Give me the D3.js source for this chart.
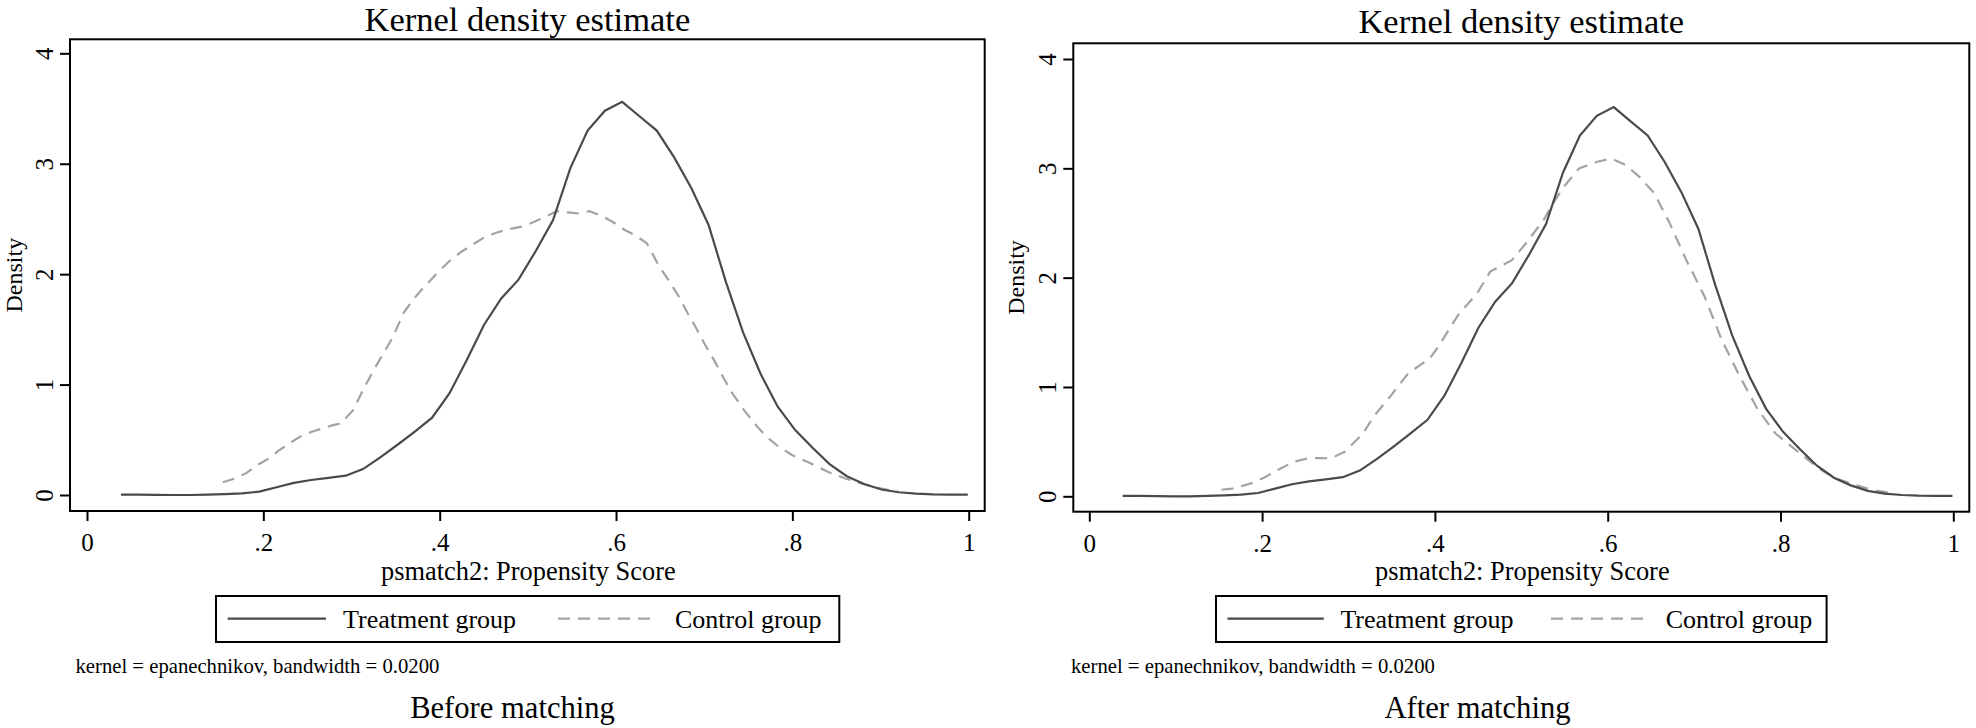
<!DOCTYPE html>
<html>
<head>
<meta charset="utf-8">
<title>Kernel density estimate</title>
<style>
  body { margin: 0; background: #fff; }
  svg text { font-family: "Liberation Serif", "Times New Roman", serif; fill: #000; }
</style>
</head>
<body>
<svg id="chart" width="1976" height="728"></svg>
<script src="https://d3js.org/d3.v7.min.js"></script>
<script>
"use strict";

// tick values / labels (Stata style)
var xTickValues = [0, 0.2, 0.4, 0.6, 0.8, 1];
var xTickLabels = ["0", ".2", ".4", ".6", ".8", "1"];
var yTickValues = [0, 1, 2, 3, 4];
var yTickLabels = ["0", "1", "2", "3", "4"];

var seriesNames = ["Treatment group", "Control group"];
var panelTitles = ["Before matching", "After matching"];

// treatment group density (same in both panels)
var treatX = [0.0386,0.0582,0.0778,0.0974,0.1170,0.1366,0.1562,0.1758,0.1954,0.2150,
              0.2346,0.2542,0.2738,0.2934,0.3130,0.3326,0.3522,0.3718,0.3914,0.4110,
              0.4306,0.4502,0.4698,0.4894,0.5090,0.5286,0.5482,0.5678,0.5874,0.6070,
              0.6266,0.6462,0.6658,0.6854,0.7050,0.7246,0.7442,0.7638,0.7834,0.8030,
              0.8226,0.8422,0.8618,0.8814,0.9010,0.9206,0.9402,0.9598,0.9794,0.9990];
var treatY = [0.003,0.003,0.002,0.000,0.000,0.003,0.008,0.015,0.030,0.070,
              0.110,0.136,0.155,0.175,0.235,0.340,0.455,0.575,0.700,0.920,
              1.220,1.540,1.780,1.950,2.210,2.490,2.960,3.300,3.480,3.560,
              3.430,3.300,3.060,2.780,2.445,1.930,1.470,1.100,0.800,0.590,
              0.430,0.280,0.170,0.100,0.050,0.025,0.012,0.006,0.004,0.003];

// control group, before matching
var ctrlBeforeX = [0.154,0.168,0.181,0.193,0.204,0.217,0.230,0.242,0.254,0.266,
                   0.278,0.288,0.302,0.313,0.325,0.336,0.347,0.359,0.371,0.383,
                   0.396,0.410,0.424,0.438,0.452,0.466,0.480,0.493,0.506,0.520,
                   0.533,0.545,0.557,0.570,0.583,0.597,0.610,0.622,0.635,0.649,
                   0.660,0.671,0.681,0.691,0.701,0.712,0.722,0.732,0.746,0.760,
                   0.772,0.784,0.800,0.820,0.840,0.860,0.880,0.900,0.920];
var ctrlBeforeY = [0.115,0.150,0.200,0.270,0.320,0.400,0.470,0.530,0.570,0.600,
                   0.630,0.650,0.770,0.950,1.130,1.280,1.430,1.650,1.780,1.890,
                   2.000,2.110,2.200,2.270,2.340,2.380,2.410,2.430,2.470,2.520,
                   2.570,2.560,2.550,2.570,2.530,2.470,2.400,2.350,2.280,2.070,
                   1.940,1.800,1.650,1.510,1.360,1.210,1.060,0.920,0.760,0.620,
                   0.520,0.440,0.360,0.290,0.210,0.150,0.100,0.060,0.030];

// control group, after matching
var ctrlAfterX = [0.153,0.165,0.174,0.188,0.201,0.218,0.237,0.253,0.266,0.280,
                  0.296,0.317,0.329,0.348,0.369,0.394,0.404,0.427,0.449,0.464,
                  0.489,0.505,0.526,0.538,0.549,0.567,0.588,0.604,0.621,0.637,
                  0.654,0.671,0.691,0.712,0.732,0.753,0.774,0.794,0.823,0.845,
                  0.865,0.885,0.905,0.925];
var ctrlAfterY = [0.060,0.070,0.088,0.120,0.165,0.240,0.317,0.347,0.350,0.347,
                  0.410,0.576,0.730,0.910,1.125,1.260,1.370,1.660,1.857,2.055,
                  2.160,2.310,2.530,2.695,2.830,3.000,3.060,3.090,3.030,2.920,
                  2.770,2.510,2.160,1.830,1.430,1.094,0.790,0.576,0.390,0.250,
                  0.160,0.110,0.060,0.035];

var svg = d3.select("#chart");

// layout of the two panels (pixels)
var panels = [
  { box: [70, 39.3, 984.7, 511], xr: [87, 968.7], yr: [495, 53.3],
    titleY: 31, densX: 22, legend: [216, 839.3], noteX: 75.5, subX: 512.5,
    ctrlX: ctrlBeforeX, ctrlY: ctrlBeforeY, sub: panelTitles[0] },
  { box: [1073.3, 43.3, 1969.3, 511.7], xr: [1089.3, 1953.3], yr: [496.3, 59],
    titleY: 32.5, densX: 1024, legend: [1216, 1826.6], noteX: 1071, subX: 1477.5,
    ctrlX: ctrlAfterX, ctrlY: ctrlAfterY, sub: panelTitles[1] }
];

var solidColor = "#4a4a4a";
var dashColor = "#a3a3a3";
var dashArr = "12,8";

panels.forEach(function(p){
  var g = svg.append("g");
  var x = d3.scaleLinear().domain([0, 1]).range(p.xr);
  var y = d3.scaleLinear().domain([0, 4]).range(p.yr);
  var cx = (p.box[0] + p.box[2]) / 2;
  var cy = (p.box[1] + p.box[3]) / 2;

  // title
  g.append("text").attr("x", cx).attr("y", p.titleY)
    .attr("text-anchor", "middle").style("font-size", "34.5px")
    .text("Kernel density estimate");

  // curves
  var line = d3.line().x(function(d){ return x(d[0]); }).y(function(d){ return y(d[1]); });
  var treat = d3.zip(treatX, treatY);
  var ctrl = d3.zip(p.ctrlX, p.ctrlY);

  g.append("path").datum(ctrl).attr("d", line)
    .attr("fill", "none").attr("stroke", dashColor).attr("stroke-width", 2.2)
    .attr("stroke-dasharray", dashArr);
  g.append("path").datum(treat).attr("d", line)
    .attr("fill", "none").attr("stroke", solidColor).attr("stroke-width", 2.2);

  // plot box
  g.append("rect").attr("x", p.box[0]).attr("y", p.box[1])
    .attr("width", p.box[2] - p.box[0]).attr("height", p.box[3] - p.box[1])
    .attr("fill", "none").attr("stroke", "#000").attr("stroke-width", 2);

  // x axis
  var xa = g.append("g").attr("transform", "translate(0," + p.box[3] + ")")
    .call(d3.axisBottom(x).tickValues(xTickValues).tickSize(10)
      .tickFormat(function(d, i){ return xTickLabels[i]; }));
  xa.select(".domain").remove();
  xa.selectAll(".tick line").attr("stroke", "#000").attr("stroke-width", 2);
  xa.selectAll(".tick text").attr("y", 40).attr("dy", null)
    .style("font-size", "25px").attr("font-family", null);

  // y axis
  var ya = g.append("g").attr("transform", "translate(" + p.box[0] + ",0)")
    .call(d3.axisLeft(y).tickValues(yTickValues).tickSize(10)
      .tickFormat(function(d, i){ return yTickLabels[i]; }));
  ya.select(".domain").remove();
  ya.selectAll(".tick line").attr("stroke", "#000").attr("stroke-width", 2);
  ya.selectAll(".tick text").attr("x", 0).attr("y", -17).attr("dy", null)
    .attr("transform", "rotate(-90)").attr("text-anchor", "middle")
    .style("font-size", "25px").attr("font-family", null);

  // axis titles
  g.append("text").attr("transform", "translate(" + p.densX + "," + cy + ") rotate(-90)")
    .attr("text-anchor", "middle").style("font-size", "24px").text("Density");
  g.append("text").attr("x", cx + 1).attr("y", 580)
    .attr("text-anchor", "middle").style("font-size", "26.4px")
    .text("psmatch2: Propensity Score");

  // legend
  var L = p.legend[0], W = p.legend[1] - p.legend[0], k = W / 623.3;
  g.append("rect").attr("x", L).attr("y", 596).attr("width", W).attr("height", 46)
    .attr("fill", "none").attr("stroke", "#000").attr("stroke-width", 2);
  g.append("line").attr("x1", L + 11.7 * k).attr("x2", L + 110 * k)
    .attr("y1", 618.7).attr("y2", 618.7)
    .attr("stroke", solidColor).attr("stroke-width", 2.2);
  g.append("text").attr("x", L + 127 * k).attr("y", 628.3)
    .style("font-size", "26px").text(seriesNames[0]);
  g.append("line").attr("x1", L + 342 * k).attr("x2", L + 442 * k)
    .attr("y1", 618.7).attr("y2", 618.7)
    .attr("stroke", dashColor).attr("stroke-width", 2.2).attr("stroke-dasharray", dashArr);
  g.append("text").attr("x", L + 459 * k).attr("y", 628.3)
    .style("font-size", "26px").text(seriesNames[1]);

  // note
  g.append("text").attr("x", p.noteX).attr("y", 673.3)
    .style("font-size", "20.7px").text("kernel = epanechnikov, bandwidth = 0.0200");

  // panel caption
  g.append("text").attr("x", p.subX).attr("y", 718.3)
    .attr("text-anchor", "middle").style("font-size", "30.6px").text(p.sub);
});
</script>
</body>
</html>
